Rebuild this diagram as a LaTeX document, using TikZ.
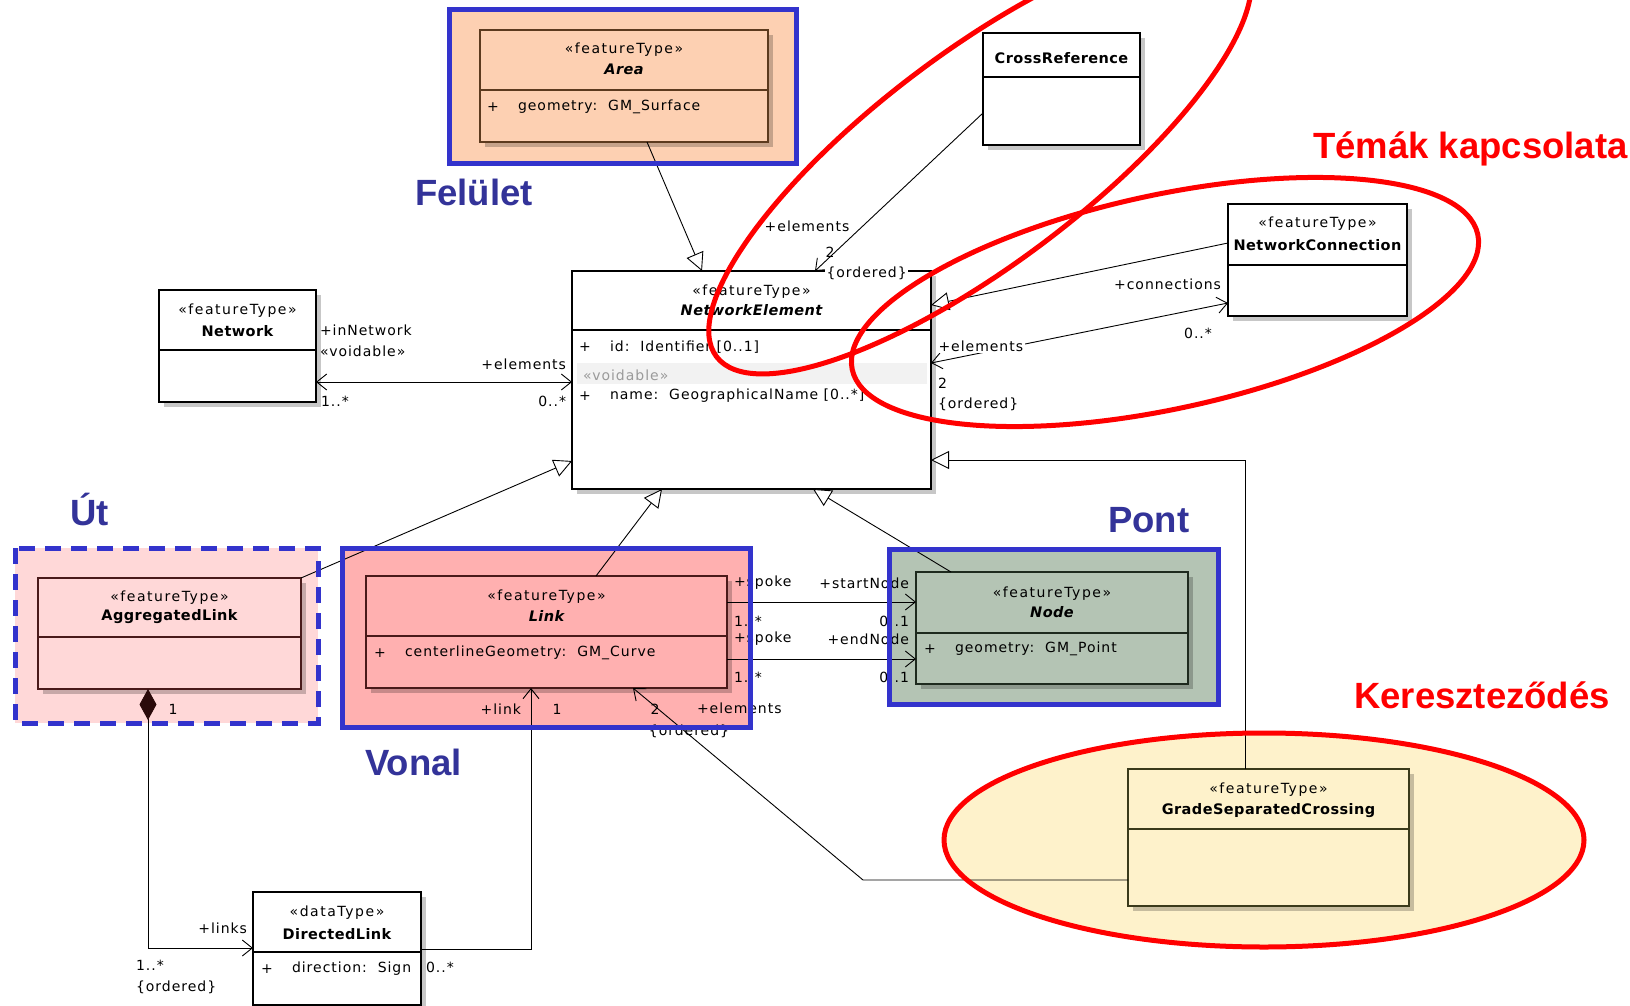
\documentclass[tikz,border=0pt]{standalone}
\usepackage{fontspec}
\setmainfont{DejaVu Sans}
\newfontfamily\lblfont{DejaVu Sans}[LetterSpace=7]
\newfontfamily\sterfont{DejaVu Sans}[LetterSpace=11]
\newfontfamily\clsfont{DejaVu Sans}[LetterSpace=3]
\newfontfamily\titlefont{Liberation Sans}
\usetikzlibrary{arrows.meta,shadows}
\definecolor{frameblue}{HTML}{3333CC}
\definecolor{titleblue}{HTML}{333399}
\definecolor{peach}{HTML}{FDD0B2}
\definecolor{pinklight}{HTML}{FFD8D8}
\definecolor{pinkmid}{HTML}{FFB0B0}
\definecolor{sage}{HTML}{B4C4B4}
\definecolor{creamy}{HTML}{FEF2CB}
\definecolor{brownline}{HTML}{5C3A1E}
\definecolor{darkred}{HTML}{4A1A1A}
\definecolor{darkgreen}{HTML}{1E2A1E}
\definecolor{darkolive}{HTML}{3A3A1A}
\definecolor{voidband}{HTML}{F2F2F2}
\definecolor{voidtext}{HTML}{9A9A9A}
\definecolor{diamondfill}{HTML}{2A0A0A}
\begin{document}
\begin{tikzpicture}[x=1pt,y=-1pt,
  lbl/.style={font=\lblfont\fontsize{14}{16}\selectfont, inner sep=0pt, outer sep=0pt},
  ster/.style={font=\sterfont\fontsize{14}{16}\selectfont, inner sep=0pt},
  cname/.style={font=\clsfont\fontsize{14.5}{16}\selectfont\bfseries, inner sep=0pt},
  aname/.style={font=\clsfont\fontsize{14.5}{16}\selectfont\bfseries\itshape, inner sep=0pt},
  cbox/.style={line width=1.4pt, inner sep=0pt, outer sep=0pt,
     drop shadow={shadow xshift=5pt, shadow yshift=-5pt, fill=black, opacity=0.22}},
  divider/.style={line width=1.4pt},
  bluefr/.style={draw=frameblue, line width=5pt},
  redell/.style={draw=red, line width=5pt},
  ttl/.style={font=\titlefont\bfseries\fontsize{36.5}{40}\selectfont, inner sep=0pt, anchor=base west},
  conn/.style={draw=black, line width=0.9pt},
  gen/.style={conn, -{Triangle[length=18pt,width=18pt,fill=white]}},
  nav/.style={conn, -{Straight Barb[length=10pt,width=16pt]}},
  navb/.style={conn, {Straight Barb[length=10pt,width=16pt]}-{Straight Barb[length=10pt,width=16pt]}},
  wlbl/.style={lbl, fill=white, inner sep=1.5pt}]
\useasboundingbox (0,0) rectangle (1630,1006);
\clip (0,0) rectangle (1630,1006);
\fill[white] (0,0) rectangle (1630,1006);

% ---------- background fills
\fill[creamy] (1264,840) ellipse [x radius=320pt, y radius=107pt];
\fill[peach] (449,10) rectangle (796,163);
\fill[pinklight] (15,548) rectangle (318,723);
\fill[pinkmid] (342,548) rectangle (750,727);
\fill[sage] (889,549) rectangle (1218,704);

% ---------- class boxes
\node[cbox, draw=brownline, fill=peach, minimum width=288pt, minimum height=112pt] (area) at (624,86) {};
\node[cbox, draw=black, fill=white, minimum width=157pt, minimum height=112pt] (crossref) at (1061.5,89) {};
\node[cbox, draw=black, fill=white, minimum width=157pt, minimum height=112pt] (network) at (237.5,346) {};
\node[cbox, draw=black, fill=white, minimum width=359pt, minimum height=218pt] (ne) at (751.5,380) {};
\node[cbox, draw=black, fill=white, minimum width=179pt, minimum height=112pt] (netconn) at (1317.5,260) {};
\node[cbox, draw=darkred, fill=pinklight, minimum width=263pt, minimum height=111pt] (agglink) at (169.5,633.5) {};
\node[cbox, draw=darkred, fill=pinkmid, minimum width=361pt, minimum height=112pt] (link) at (546.5,632) {};
\node[cbox, draw=darkgreen, fill=sage, minimum width=272pt, minimum height=112pt] (nodecls) at (1052,628) {};
\node[cbox, draw=darkolive, fill=creamy, minimum width=281pt, minimum height=137pt] (gsc) at (1268.5,837.5) {};
\node[cbox, draw=black, fill=white, minimum width=168pt, minimum height=113pt] (dirlink) at (337,948.5) {};

% dividers
\draw[divider, brownline] (area.west |- 0,90) -- (area.east |- 0,90);
\draw[divider] (crossref.west |- 0,77) -- (crossref.east |- 0,77);
\draw[divider] (network.west |- 0,350) -- (network.east |- 0,350);
\draw[divider] (ne.west |- 0,330) -- (ne.east |- 0,330);
\draw[divider] (netconn.west |- 0,265) -- (netconn.east |- 0,265);
\draw[divider, darkred] (agglink.west |- 0,637) -- (agglink.east |- 0,637);
\draw[divider, darkred] (link.west |- 0,636) -- (link.east |- 0,636);
\draw[divider, darkgreen] (nodecls.west |- 0,633) -- (nodecls.east |- 0,633);
\draw[divider, darkolive] (gsc.west |- 0,829) -- (gsc.east |- 0,829);
\draw[divider] (dirlink.west |- 0,952) -- (dirlink.east |- 0,952);
\fill[voidband] (577,363) rectangle (927,384);

% ---------- class texts
\node[ster] (areaS) at (624,50) {«featureType»};
\node[aname] (areaN) at (624,69) {Area};
\node[lbl] (areaP) at (493,107) {+};
\node[lbl, anchor=west] (areaA) at (518,107) {geometry:\ \ GM\_Surface};

\node[cname] (crN) at (1061.5,58) {CrossReference};

\node[ster] (netS) at (237.5,311) {«featureType»};
\node[cname] (netN) at (237.5,331) {Network};

\node[ster] (neS) at (751.5,292) {«featureType»};
\node[aname] (neN) at (751.5,310) {NetworkElement};
\node[lbl] (neP1) at (585,347) {+};
\node[lbl, anchor=west] (neA1) at (610,347) {id:\ \ Identifier [0..1]};
\node[lbl, anchor=west, text=voidtext] (neV) at (583,375) {«voidable»};
\node[lbl] (neP2) at (585,396) {+};
\node[lbl, anchor=west] (neA2) at (610,396) {name:\ \ GeographicalName [0..*]};

\node[ster] (ncS) at (1317.5,224) {«featureType»};
\node[cname] (ncN) at (1317.5,245) {NetworkConnection};

\node[ster] (alS) at (169.5,598) {«featureType»};
\node[cname] (alN) at (169.5,617) {AggregatedLink};

\node[ster] (lkS) at (546.5,597) {«featureType»};
\node[aname] (lkN) at (546.5,616) {Link};
\node[lbl] (lkP) at (380,653) {+};
\node[lbl, anchor=west] (lkA) at (405,653) {centerlineGeometry:\ \ GM\_Curve};

\node[ster] (ndS) at (1052,594) {«featureType»};
\node[aname] (ndN) at (1052,612) {Node};
\node[lbl] (ndP) at (930,649) {+};
\node[lbl, anchor=west] (ndA) at (955,649) {geometry:\ \ GM\_Point};

\node[ster] (gsS) at (1268.5,790) {«featureType»};
\node[cname] (gsN) at (1268.5,811) {GradeSeparatedCrossing};

\node[ster] (dlS) at (337,913) {«dataType»};
\node[cname] (dlN) at (337,934) {DirectedLink};
\node[lbl] (dlP) at (267,969) {+};
\node[lbl, anchor=west] (dlA) at (292,969) {direction:\ \ Sign};

% ---------- connectors
\coordinate (neTopA) at (702,271);
\coordinate (neTopCR) at (815,271);
\coordinate (gscBend) at (1245,460);
\coordinate (dlBend) at (531,949);
\coordinate (gsBend) at (863,880);
\coordinate (alBend) at (148,948);

\draw[gen] (area.south -| 647,0) -- (neTopA);
\draw[gen] (agglink.north east) -- (ne.west |- 0,461);
\draw[gen] (link.north -| 596,0) -- (ne.south -| 662,0);
\draw[gen] (nodecls.north -| 951,0) -- (ne.south -| 813,0);
\draw[gen] (gsc.north -| 1245,0) -- (gscBend) -- (ne.east |- 0,460);
\draw[gen] (netconn.west |- 0,243) -- (ne.east |- 0,305);

\draw[navb] (network.east |- 0,382) -- (ne.west |- 0,382);
\draw[nav] (crossref.west |- 0,113) -- (neTopCR);
\draw[navb] (netconn.west |- 0,303) -- (ne.east |- 0,363);
\draw[nav] (link.east |- 0,602) -- (nodecls.west |- 0,602);
\draw[nav] (link.east |- 0,659) -- (nodecls.west |- 0,659);
\draw[conn, {Diamond[length=31pt,width=17pt,fill=diamondfill,color=diamondfill]}-{Straight Barb[length=10pt,width=16pt]}]
   (agglink.south -| 148,0) -- (alBend) -- (dirlink.west |- 0,948);
\draw[nav] (dirlink.east |- 0,949) -- (dlBend) -- (link.south -| 531,0);
\draw[nav] (gsc.west |- 0,880) -- (gsBend) -- (link.south -| 633,0);

% ---------- connector labels
\node[lbl, anchor=west] (l1) at (320,330) {+inNetwork};
\node[lbl, anchor=west] (l2) at (320,351) {«voidable»};
\node[lbl, anchor=west] (l3) at (321,401) {1..*};
\node[lbl, anchor=east] (l4) at (566,364) {+elements};
\node[lbl, anchor=east] (l5) at (566,401) {0..*};

\node[lbl] (l6) at (807,226) {+elements};
\node[lbl] (l7) at (830,252) {2};
\node[wlbl, anchor=west] (l8) at (825,273) {\{ordered\}};

\node[lbl, anchor=east] (l9) at (1221,284) {+connections};
\node[lbl] (l10) at (1198,333) {0..*};
\node[wlbl, anchor=west] (l11) at (937,346) {+elements};
\node[lbl, anchor=west] (l12) at (938,383) {2};
\node[lbl, anchor=west] (l13) at (938,404) {\{ordered\}};

\node[lbl, anchor=west] (l14) at (734,583) {+spoke};
\node[lbl, anchor=east] (l15) at (909,583) {+startNode};
\node[lbl, anchor=west] (l16) at (734,621) {1..*};
\node[lbl, anchor=east] (l17) at (909,621) {0..1};
\node[lbl, anchor=west] (l18) at (734,639) {+spoke};
\node[lbl, anchor=east] (l19) at (909,639) {+endNode};
\node[lbl, anchor=west] (l20) at (734,677) {1..*};
\node[lbl, anchor=east] (l21) at (909,677) {0..1};

\node[lbl, anchor=east] (l22) at (521,709) {+link};
\node[lbl] (l23) at (557,709) {1};
\node[lbl] (l24) at (655,709) {2};
\node[lbl, anchor=west] (l25) at (697,708) {+elements};
\node[lbl] (l26) at (689,731) {\{ordered\}};

\node[lbl] (l27) at (173,709) {1};
\node[lbl, anchor=east] (l28) at (247,928) {+links};
\node[lbl, anchor=west] (l29) at (136,965) {1..*};
\node[lbl, anchor=west] (l30) at (136,987) {\{ordered\}};
\node[lbl, anchor=west] (l31) at (426,967) {0..*};

% ---------- blue frames (borders on top)
\draw[bluefr] (449,10) rectangle (796,163);
\draw[bluefr, dash pattern=on 16pt off 10pt] (15,548) rectangle (318,723);
\draw[bluefr] (342,548) rectangle (750,727);
\draw[bluefr] (889,549) rectangle (1218,704);

% ---------- red ellipses
\draw[redell, rotate around={37:(980,158)}] (980,158) ellipse [x radius=330pt, y radius=106pt];
\draw[redell, rotate around={12.2:(1165,302)}] (1165,302) ellipse [x radius=320pt, y radius=107pt];
\draw[redell] (1264,840) ellipse [x radius=320pt, y radius=107pt];

% ---------- titles
\node[ttl, text=titleblue] (tFel) at (415,205) {Felület};
\node[ttl, text=titleblue] (tUt) at (70,525) {Út};
\node[ttl, text=titleblue] (tVon) at (365,775) {Vonal};
\node[ttl, text=titleblue] (tPont) at (1108,532) {Pont};
\node[ttl, text=red] (tTem) at (1313,158) {Témák kapcsolata};
\node[ttl, text=red] (tKer) at (1354,708) {Kereszteződés};
\end{tikzpicture}
\end{document}
